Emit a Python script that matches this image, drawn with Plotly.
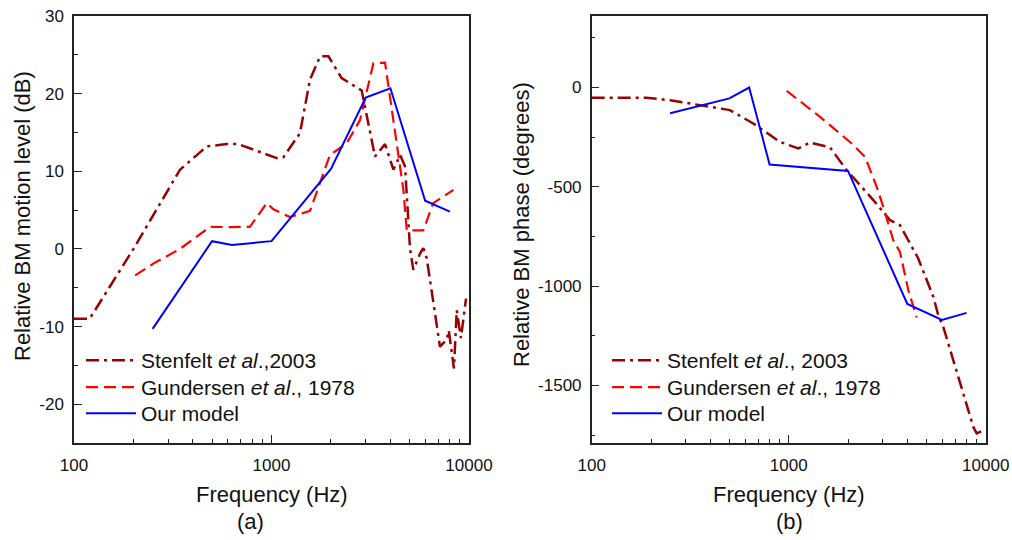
import plotly.graph_objects as go

# ---- Panel (a): relative BM motion level (dB) ----
a_sten_f = [100, 120, 200, 344, 470, 593, 679, 1062, 1148, 1393, 1566, 1762, 1942, 2266, 2862,
            3343, 3756, 4142, 4480, 4745, 5027, 5226, 5650, 5870, 6110, 7130, 7710, 7900, 8390,
            8670, 9100, 9660]
a_sten_v = [-9.0, -9.0, 0.0, 10.2, 13.2, 13.5, 13.5, 11.7, 11.8, 14.9, 21.8, 24.8, 24.8, 22.0, 20.4,
            11.9, 13.5, 10.2, 12.1, 10.6, 0.0, -2.7, -0.6, 0.1, -1.2, -12.6, -11.7, -10.5, -15.4,
            -7.9, -11.5, -6.4]

a_gund_f = [204, 252, 344, 489, 617, 778, 946, 1022, 1241, 1567, 1977, 2403, 2806, 3280, 3757,
            4654, 4840, 5870, 6590, 8340]
a_gund_v = [-3.4, -1.9, 0.0, 2.85, 2.8, 2.85, 5.9, 5.1, 4.1, 4.9, 12.1, 13.6, 16.6, 23.9, 24.0,
            7.6, 2.4, 2.4, 5.9, 7.6]

a_model_f = [250, 500, 630, 1000, 2000, 3000, 4000, 6000, 8000]
a_model_v = [-10.3, 1.0, 0.5, 1.0, 10.3, 19.5, 20.7, 6.2, 4.8]

# ---- Panel (b): relative BM phase (degrees) ----
b_sten_f = [100, 190, 250, 414, 503, 661, 903, 1119, 1283, 1622, 1968, 2690, 3267, 3670, 4289,
            4546, 5422, 5745, 6090, 8650, 9000, 9720, 10000]
b_sten_v = [-52, -52, -64, -101, -114, -181, -274, -307, -277, -302, -416, -567, -668, -693, -811,
            -861, -1054, -1147, -1205, -1709, -1742, -1726, -1730]

b_gund_f = [977, 1443, 2089, 2440, 2797, 3020, 3396, 3670, 4049, 4463]
b_gund_v = [-17, -148, -282, -349, -500, -601, -769, -828, -1021, -1158]

b_model_f = [250, 500, 630, 800, 2000, 4000, 6000, 8000]
b_model_v = [-130, -55, 0, -388, -420, -1090, -1170, -1135]

# ---- tick labels ----
x_tickvals = [100, 1000, 10000]
x_ticktext = ["100", "1000", "10000"]
x_minor = [200, 300, 400, 500, 600, 700, 800, 900, 2000, 3000, 4000, 5000, 6000, 7000, 8000, 9000]
ya_tickvals = [-20, -10, 0, 10, 20, 30]
ya_ticktext = ["-20", "-10", "0", "10", "20", "30"]
yb_tickvals = [-1500, -1000, -500, 0]
yb_ticktext = ["-1500", "-1000", "-500", "0"]

names_a = ["Stenfelt <i>et al</i>.,2003", "Gundersen <i>et al</i>., 1978", "Our model"]
names_b = ["Stenfelt <i>et al</i>., 2003", "Gundersen <i>et al</i>., 1978", "Our model"]

C_STEN = "#990000"
C_GUND = "#ff0000"
C_MODEL = "#0000ff"
DASHDOT = "13px,5px,3px,5px"
DASH = "12px,6px"
FONT = "Liberation Sans, Arial, sans-serif"

W, H = 1012, 540
LEG_ROWS = [360, 387, 413]     # legend row centres (px from top)
LEG_X = {"a": 81, "b": 607}    # legend left edges (px)

fig = go.Figure()

def add_set(xa, ya, first_leg, names, sten, gund, model):
    styles = [dict(color=C_STEN, width=2.5, dash=DASHDOT),
              dict(color=C_GUND, width=2.2, dash=DASH),
              dict(color=C_MODEL, width=2.0)]
    data = [sten, gund, model]
    for i in range(3):
        n = first_leg + i
        fig.add_trace(go.Scatter(x=data[i][0], y=data[i][1], mode="lines", name=names[i],
                                 xaxis=xa, yaxis=ya, legend="legend" if n == 1 else f"legend{n}",
                                 line=styles[i]))

add_set("x", "y", 1, names_a, (a_sten_f, a_sten_v), (a_gund_f, a_gund_v), (a_model_f, a_model_v))
add_set("x2", "y2", 4, names_b, (b_sten_f, b_sten_v), (b_gund_f, b_gund_v), (b_model_f, b_model_v))

ydom = [(H - 443) / H, (H - 16) / H]

common_axis = dict(showline=True, linecolor="#222", linewidth=1.5, mirror=True, showgrid=False,
                   zeroline=False, ticks="inside", ticklen=8, tickwidth=1.2, tickcolor="#222",
                   automargin=False,
                   tickfont=dict(family=FONT, size=17, color="#111"))

xaxis = dict(common_axis, type="log", range=[2, 4], tickmode="array", tickvals=x_tickvals,
             ticktext=x_ticktext, ticklabelstandoff=6,
             minor=dict(tickmode="array", tickvals=x_minor, ticks="inside", ticklen=4,
                        tickwidth=1.2, tickcolor="#222", showgrid=False))

layout_legends = {}
for k in range(6):
    key = "legend" if k == 0 else f"legend{k + 1}"
    panel = "a" if k < 3 else "b"
    row = LEG_ROWS[k % 3]
    layout_legends[key] = dict(x=LEG_X[panel] / W, xanchor="left", y=(H - (row - 20)) / H,
                               yanchor="top", bgcolor="rgba(0,0,0,0)",
                               font=dict(family=FONT, size=21, color="#111"), itemwidth=50)

fig.update_layout(
    width=W, height=H, margin=dict(l=0, r=0, t=0, b=0, autoexpand=False),
    paper_bgcolor="white", plot_bgcolor="white",
    font=dict(family=FONT, color="#111"),
    xaxis=dict(xaxis, domain=[74 / W, 469 / W], anchor="y"),
    xaxis2=dict(xaxis, domain=[591.7 / W, 985.7 / W], anchor="y2"),
    yaxis=dict(common_axis, domain=ydom, anchor="x", range=[-25, 30], tickmode="array",
               tickvals=ya_tickvals, ticktext=ya_ticktext, ticklabelstandoff=5,
               minor=dict(tickmode="linear", tick0=0, dtick=5, ticks="inside", ticklen=4,
                          tickwidth=1.2, tickcolor="#222", showgrid=False)),
    yaxis2=dict(common_axis, domain=ydom, anchor="x2", range=[-1790, 360], tickmode="array",
                tickvals=yb_tickvals, ticktext=yb_ticktext, ticklabelstandoff=5,
                minor=dict(tickmode="linear", tick0=0, dtick=250, ticks="inside", ticklen=4,
                           tickwidth=1.2, tickcolor="#222", showgrid=False)),
    showlegend=True,
    **layout_legends,
)

ann_font = dict(family=FONT, size=22, color="#111")
annotations = [
    dict(text="Frequency (Hz)", x=271.5 / W, y=(H - 494) / H),
    dict(text="Frequency (Hz)", x=788.7 / W, y=(H - 494) / H),
    dict(text="(a)", x=250 / W, y=(H - 521) / H),
    dict(text="(b)", x=789 / W, y=(H - 521) / H),
    dict(text="Relative BM motion level (dB)", x=22 / W, y=(H - 216) / H, textangle=-90),
    dict(text="Relative BM phase (degrees)", x=522 / W, y=(H - 225) / H, textangle=-90),
]
for a in annotations:
    fig.add_annotation(xref="paper", yref="paper", xanchor="center", yanchor="middle",
                       showarrow=False, font=ann_font, **a)

fig.write_html("out.html")
